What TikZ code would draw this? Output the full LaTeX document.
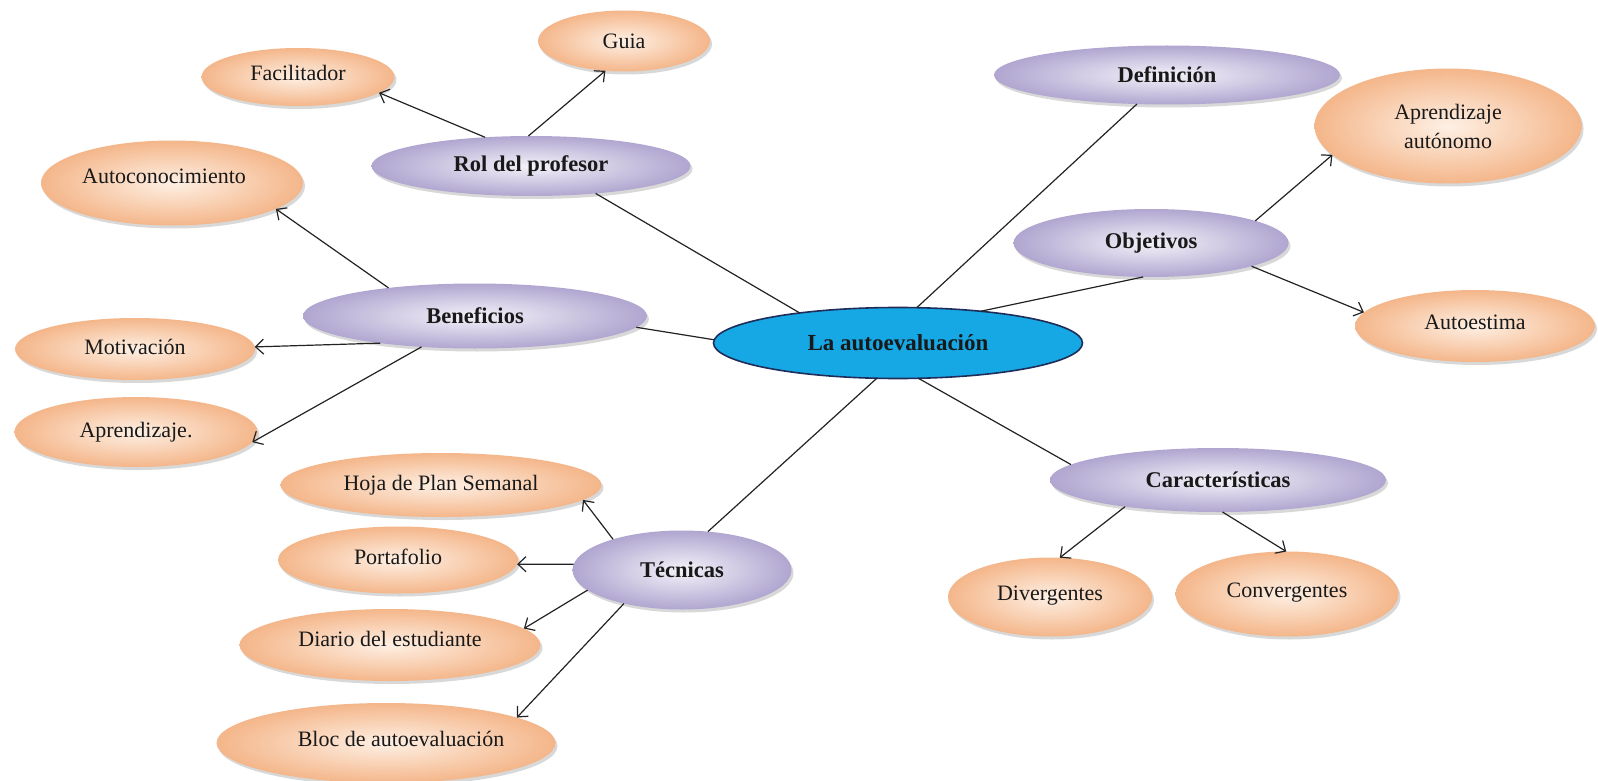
\documentclass[tikz,border=0pt]{standalone}
\usepackage{fontspec}
\setmainfont{Liberation Serif}
\usetikzlibrary{shapes.geometric,shadows,arrows.meta}
\definecolor{peachL}{RGB}{254,240,228}
\definecolor{peachD}{RGB}{244,182,138}
\definecolor{lavL}{RGB}{244,242,249}
\definecolor{lavD}{RGB}{176,166,208}
\definecolor{cyanC}{RGB}{22,168,228}
\definecolor{navy}{RGB}{31,45,90}
\definecolor{lineC}{RGB}{35,35,35}
\begin{document}
\begin{tikzpicture}[x=1pt,y=-1pt,
  base/.style={ellipse, inner sep=0pt, outer sep=0pt, text=black!90},
  shad/.style={drop shadow={shadow xshift=2pt, shadow yshift=-3pt, opacity=0.3}},
  orng/.style={base, shad, inner color=peachL, outer color=peachD, font=\fontsize{22}{29}\selectfont},
  purp/.style={base, shad, inner color=lavL, outer color=lavD, font=\bfseries\fontsize{22.5}{26}\selectfont},
  central/.style={base, fill=cyanC, draw=navy, line width=1.6pt, font=\bfseries\fontsize{23}{27}\selectfont},
  sz/.style 2 args={minimum width=#1pt, minimum height=#2pt},
  link/.style={draw=lineC, line width=1.2pt},
  arr/.style={link, -{Straight Barb[length=8pt,width=15pt]}}
]
\fill[white] (0,0) rectangle (1598,781);
\useasboundingbox (0,0) rectangle (1598,781);

\node[orng, sz={172}{61}] (guia) at (624,41) {Guia};
\node[orng, sz={193}{58}] (facil) at (298,77) {\raisebox{8pt}{Facilitador}};
\node[purp, sz={319}{60}] (rol) at (531,166) {Rol del profesor};
\node[orng, sz={262}{85}] (autocon) at (172,183) {\raisebox{14pt}{Autoconocimiento\hspace*{16pt}}};
\node[purp, sz={344}{65}] (benef) at (475,316) {Beneficios};
\node[orng, sz={240}{62}] (motiv) at (135,349) {\raisebox{4pt}{Motivación}};
\node[orng, sz={243}{70}] (aprend) at (136,432) {\raisebox{3pt}{Aprendizaje.}};
\node[central, sz={369}{71}] (auto) at (898,343) {La autoevaluación};
\node[purp, sz={346}{59}] (defin) at (1167,75) {Definición};
\node[orng, sz={267}{115}, align=center] (aprauto) at (1448,126) {Aprendizaje\\autónomo};
\node[purp, sz={275}{68}] (objet) at (1151,243) {Objetivos};
\node[orng, sz={240}{72}] (autoest) at (1475,326) {\raisebox{7pt}{Autoestima}};
\node[purp, sz={336}{64}] (caract) at (1218,480) {Características};
\node[orng, sz={204}{79}] (diverg) at (1050,597) {\raisebox{8pt}{Divergentes}};
\node[orng, sz={223}{85}] (converg) at (1287,594) {\raisebox{7pt}{Convergentes}};
\node[purp, sz={219}{79}] (tecn) at (682,570) {Técnicas};
\node[orng, sz={321}{64}] (hoja) at (441,485) {\raisebox{4pt}{Hoja de Plan Semanal}};
\node[orng, sz={240}{67}] (portaf) at (398,560) {\raisebox{7pt}{Portafolio}};
\node[orng, sz={301}{72}] (diario) at (390,645) {\raisebox{13pt}{Diario del estudiante}};
\node[orng, sz={339}{80}] (bloc) at (386,743) {\raisebox{9pt}{\hspace*{30pt}Bloc de autoevaluación}};

\draw[link] (auto.163.2) -- (rol.-23.8);
\draw[link] (auto.62.8) -- (defin.-136.7);
\draw[link] (auto.21.5) -- (objet.-103);
\draw[link] (auto.179.4) -- (benef.-4.4);
\draw[link] (auto.-121.4) -- (tecn.56);
\draw[link] (auto.-60.8) -- (caract.174);

\draw[arr] (rol.148.3) -- (facil.-11.8);
\draw[arr] (rol.95.7) -- (guia.-122.5);
\draw[arr] (benef.162) -- (autocon.-14.7);
\draw[arr] (benef.-164) -- (motiv.1.6);
\draw[arr] (benef.-150.7) -- (aprend.-5);
\draw[arr] (objet.12.1) -- (aprauto.-166.2);
\draw[arr] (objet.-13.6) -- (autoest.173.4);
\draw[arr] (caract.-164) -- (diverg.76.3);
\draw[arr] (caract.-82.9) -- (converg.91);
\draw[arr] (tecn.156.6) -- (hoja.-6.6);
\draw[arr] (tecn.177.4) -- (portaf.-2.3);
\draw[arr] (tecn.-168.6) -- (diario.7.7);
\draw[arr] (tecn.-150.9) -- (bloc.11.8);
\end{tikzpicture}
\end{document}
